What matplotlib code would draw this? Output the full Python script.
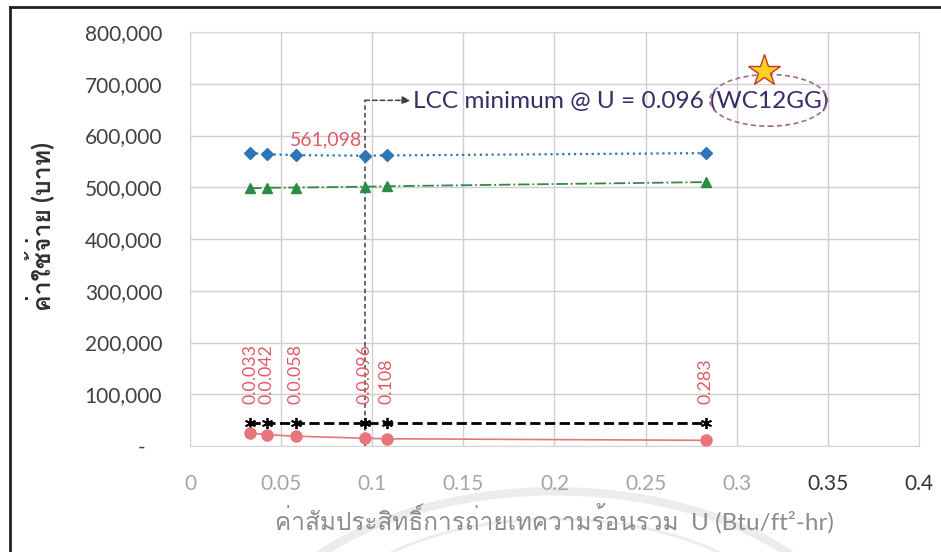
import matplotlib
matplotlib.use("Agg")
import matplotlib.pyplot as plt
from matplotlib import font_manager
from matplotlib.ticker import FuncFormatter, MultipleLocator
from matplotlib.patches import Ellipse, Circle
from matplotlib.ft2font import FT2Font


def thai_family():
    # first installed family that has Thai glyphs
    for f in font_manager.fontManager.ttflist:
        try:
            if 0x0E01 in FT2Font(f.fname).get_charmap():
                return f.name
        except Exception:
            continue
    return "DejaVu Sans"


THAI = thai_family()
FAM = ["Lato", THAI, "DejaVu Sans"]
plt.rcParams["font.family"] = FAM

u_values = [0.033, 0.042, 0.058, 0.096, 0.108, 0.283]
u_labels = ["0.0.033", "0.0.042", "0.0.058", "0.0.096", "0.108", "0.283"]
lcc_total = [566000, 564000, 562000, 561098, 561500, 566000]
cost_energy = [498000, 499000, 499500, 501000, 502000, 510000]
cost_material = [45000, 45000, 45000, 45000, 45000, 45000]
cost_other = [25000, 22000, 19000, 15000, 14000, 11000]
u_min = 0.096
min_label = "561,098"

fig = plt.figure(figsize=(9.41, 5.52), dpi=100)
ax = fig.add_axes([0.2019, 0.192, 0.7747, 0.750])

ax.plot(u_values, lcc_total, color="#2e75b6", ls=":", lw=1.6, marker="D", ms=6, zorder=4)
ax.plot(u_values, cost_energy, color="#2e8b47", ls="-.", lw=1.3, marker="^", ms=7, zorder=4)
ax.plot(u_values, cost_material, color="black", ls="--", lw=2.0, marker=(6, 2, 0), ms=8,
        mew=1.3, zorder=4)
ax.plot(u_values, cost_other, color="#e8747c", ls="-", lw=1.2, marker="o", ms=8, zorder=4)

for u, lab in zip(u_values, u_labels):
    ax.text(u, 82000, lab, rotation=90, ha="center", va="bottom", color="#e05a64",
            fontsize=12.8, zorder=5)

ax.text(0.0745, 591000, min_label, ha="center", va="center", color="#e05a64", fontsize=14)

# marker line to the minimum
ax.plot([u_min, u_min], [0, 668000], color="#404040", ls=(0, (3, 2)), lw=1.1, zorder=3)
ax.annotate("", xy=(0.121, 668000), xytext=(u_min, 668000),
            arrowprops=dict(arrowstyle="-|>", color="#404040", lw=1.1, ls=(0, (3, 2)),
                            shrinkA=0, shrinkB=0, mutation_scale=12))
ax.text(0.1225, 668000, "LCC minimum @ U = 0.096 (WC12GG)", ha="left", va="center",
        color="#3a2c66", fontsize=17.6)
ax.add_patch(Ellipse((0.3175, 668000), 0.0645, 100000, fill=False, ec="#a06a86",
                     ls=(0, (3, 2)), lw=1.2, zorder=5))
ax.plot([0.315], [725000], marker="*", ms=24, mfc="#ffd21f", mec="#c0392b", mew=1.0,
        zorder=6, clip_on=False)

ax.set_xlim(0, 0.4)
ax.set_ylim(0, 800000)
ax.xaxis.set_major_locator(MultipleLocator(0.05))
ax.yaxis.set_major_locator(MultipleLocator(100000))
ax.yaxis.set_major_formatter(FuncFormatter(lambda v, p: "-   " if v == 0 else f"{v:,.0f}"))
ax.xaxis.set_major_formatter(FuncFormatter(lambda v, p: f"{v:g}"))
ax.grid(True, color="#cfcfcf", lw=1.0)
ax.set_axisbelow(True)
for s in ax.spines.values():
    s.set_color("#d6d6d6")
ax.tick_params(length=0, labelsize=15)
ax.tick_params(axis="y", pad=20, labelcolor="#404040")
ax.tick_params(axis="x", pad=20, labelcolor="#a6a6a6")
for lab in ax.get_xticklabels():
    if lab.get_text() in ("0.35", "0.4"):
        lab.set_color("#333333")

ax.set_ylabel("ค่าใช้จ่าย (บาท)", fontsize=18, fontweight="bold", color="#303030")
ax.yaxis.set_label_coords(-0.186, 0.53)
ax.set_xlabel("ค่าสัมประสิทธิ์การถ่ายเทความร้อนรวม  U (Btu/ft²-hr)", fontsize=17.5,
              color="#8c8c8c", labelpad=7)

# faint seal in the background
for r, w in [(0.33, 6), (0.28, 2)]:
    fig.patches.append(Circle((0.59, -0.22), r, transform=fig.transFigure, fill=False,
                              ec="#ececec", lw=w, zorder=-5))

# frame lines along the top and left edges
fig.add_artist(plt.Line2D([0.0106, 1.0], [0.987, 0.987], transform=fig.transFigure,
                          color="#222222", lw=2.0))
fig.add_artist(plt.Line2D([0.0106, 0.0106], [0.0, 0.987], transform=fig.transFigure,
                          color="#222222", lw=2.0))

fig.savefig("out.png", dpi=100)
